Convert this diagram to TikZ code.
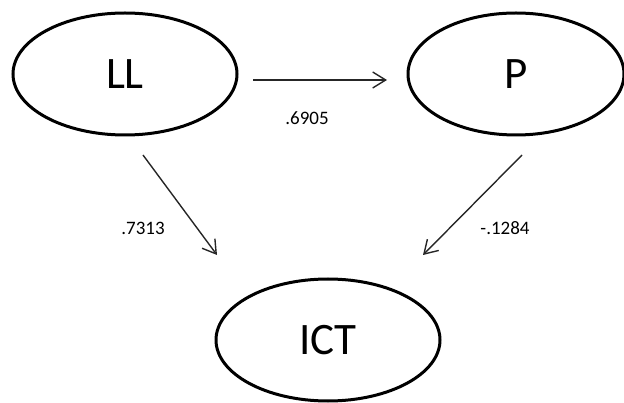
\documentclass[tikz,border=0pt]{standalone}
\usepackage{fontspec}
\setmainfont{Carlito}
\usetikzlibrary{shapes.geometric,arrows.meta}
\tikzset{
  latent/.style={ellipse,draw=black,line width=3pt,inner sep=0pt,minimum height=122pt,font=\fontsize{45}{50}\selectfont},
  path/.style={draw=black!85,line width=1.4pt,-{Straight Barb[length=13pt,width=16pt,line width=1.4pt]}},
  coef/.style={font=\fontsize{19}{22}\selectfont,inner sep=0pt}
}
\begin{document}
\begin{tikzpicture}[x=1pt,y=-1pt]
\useasboundingbox (0,0) rectangle (624,403);
\node[latent,minimum width=224pt] (LL) at (125,74) {LL};
\node[latent,minimum width=216pt] (P) at (516,74) {P};
\node[latent,minimum width=224pt] (ICT) at (328,340) {ICT};
\coordinate (a1) at (253,80);
\coordinate (a2) at (387,80);
\coordinate (b1) at (143,155);
\coordinate (b2) at (217,255);
\coordinate (c1) at (522,155);
\coordinate (c2) at (423,255);
\draw[path] (a1) -- (a2);
\draw[path] (b1) -- (b2);
\draw[path] (c1) -- (c2);
\node[coef] (l1) at (307,118) {.6905};
\node[coef] (l2) at (143,228) {.7313};
\node[coef] (l3) at (505,228) {-.1284};
\end{tikzpicture}
\end{document}
